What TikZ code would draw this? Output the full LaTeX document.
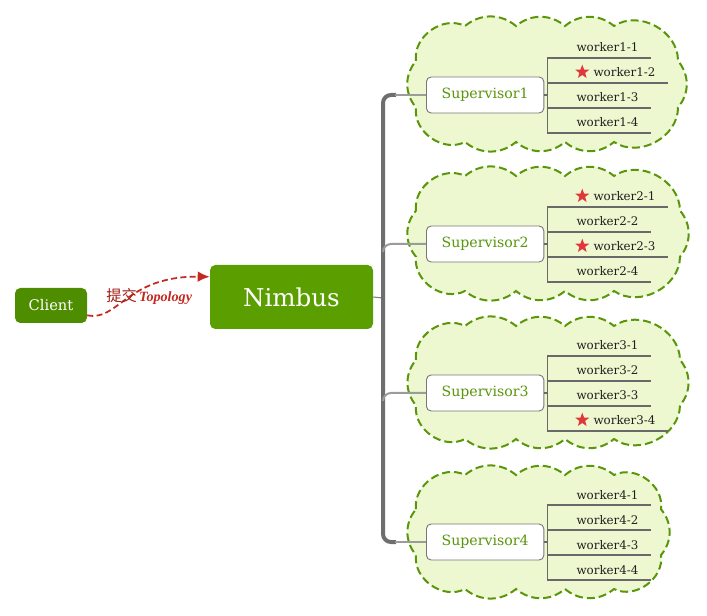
\documentclass[tikz,border=0pt]{standalone}
\usepackage{fontspec}
\setmainfont{DejaVu Serif}
\newfontfamily\cjk{Noto Sans CJK SC}
\newfontfamily\topofont{Liberation Serif}
\usetikzlibrary{arrows.meta,shapes.geometric,calc}
\definecolor{nimbusG}{RGB}{91,158,0}
\definecolor{clientG}{RGB}{78,140,0}
\definecolor{cloudFill}{RGB}{238,248,208}
\definecolor{cloudLine}{RGB}{90,150,10}
\definecolor{supText}{RGB}{88,150,10}
\definecolor{boxLine}{RGB}{120,120,120}
\definecolor{barC}{RGB}{110,110,110}
\definecolor{branchC}{RGB}{155,155,155}
\definecolor{wlineC}{RGB}{105,105,105}
\definecolor{starC}{RGB}{224,56,58}
\definecolor{arrowC}{RGB}{196,40,30}
\definecolor{labelC}{RGB}{160,30,20}
\newcommand\mycloud[4]{%
\pgfmathsetmacro\qL{#1+8}\pgfmathsetmacro\qR{#3-8}%
\pgfmathsetmacro\qT{#2+9}\pgfmathsetmacro\qB{#4-8}%
\pgfmathsetmacro\qA{#2+0.33*(#4-#2)}\pgfmathsetmacro\qC{#2+0.68*(#4-#2)}%
\filldraw[cloudst] (\qL,\qA) to[bend left=62,looseness=1.05] (465,\qT)
 to[bend left=40] (516,\qT) to[bend left=40] (565,\qT) to[bend left=40] (614,\qT)
 to[bend left=62,looseness=1.05] (\qR,\qA) to[bend left=40] (\qR,\qC)
 to[bend left=62,looseness=1.05] (614,\qB) to[bend left=40] (565,\qB) to[bend left=40] (516,\qB) to[bend left=40] (465,\qB)
 to[bend left=62,looseness=1.05] (\qL,\qC) to[bend left=40] cycle;
}
\newcommand\wrow[5]{%
 \coordinate (l#1) at ($(#2)+(0,#3)$);
 \ifnum#5=1
  \node[starnode] (s#1) at ($(l#1)+(35,-11)$) {};
  \node[wk, anchor=base west] (w#1) at ($(l#1)+(46,-6)$) {#4};
 \else
  \node[wk, anchor=base west] (w#1) at ($(l#1)+(29,-6)$) {#4};
 \fi
 \coordinate (e#1) at ([xshift=9pt]w#1.base east);
 \draw[wline] (l#1) -- (e#1 |- l#1);
}
\begin{document}
\begin{tikzpicture}[x=0.75pt,y=-0.75pt,
  cloudst/.style={fill=cloudFill, draw=cloudLine, line width=1.5pt, dash pattern=on 6pt off 3pt},
  supbox/.style={draw=boxLine, line width=0.7pt, fill=white, rounded corners=3.5pt,
     minimum width=88pt, minimum height=27pt, inner sep=0pt, text=supText, font=\fontsize{10.6pt}{12pt}\selectfont, anchor=west},
  wk/.style={inner sep=0pt, text=black!88, font=\fontsize{8.9pt}{10pt}\selectfont},
  wline/.style={draw=wlineC, line width=0.8pt},
  starnode/.style={star, star points=5, star point ratio=2.4, fill=starC, minimum size=11pt, inner sep=0pt},
  bar/.style={draw=barC, line width=3pt},
  branch/.style={draw=branchC, line width=1.5pt},
]
\useasboundingbox (0,0) rectangle (707,616);
% clouds
\mycloud{408}{17}{686}{150}
\mycloud{408}{167}{688}{299}
\mycloud{408}{317}{688}{447}
\mycloud{408}{466}{669}{597}
% main nodes
\node[fill=clientG, rounded corners=4pt, minimum width=54pt, minimum height=26.25pt, inner sep=0pt,
  text=white, font=\fontsize{11pt}{13pt}\selectfont] (client) at (51,305.5) {Client};
\node[fill=nimbusG, rounded corners=4pt, minimum width=122.25pt, minimum height=48pt, inner sep=0pt,
  text=white, font=\fontsize{18.4pt}{22pt}\selectfont] (nimbus) at (291.5,297) {Nimbus};
% submit arrow
\draw[arrowC, line width=1.3pt, dash pattern=on 4.5pt off 2.5pt, -{Latex[length=9pt,width=8pt]}]
  ([yshift=6pt]client.south east) .. controls (118,322) and (126,276) .. ([yshift=-9pt]nimbus.north west);
\node[inner sep=0pt, anchor=base west] (lbl) at (106,302)
  {\textcolor{labelC}{\cjk\fontsize{11.5pt}{13pt}\selectfont 提交}\,\textcolor{arrowC}{\topofont\bfseries\itshape\fontsize{10.6pt}{12pt}\selectfont Topology}};
% supervisors
\node[supbox] (sup1) at (426,95) {Supervisor1};
\node[supbox] (sup2) at (426,244) {Supervisor2};
\node[supbox] (sup3) at (426,393) {Supervisor3};
\node[supbox] (sup4) at (426,542) {Supervisor4};
% trunk
\coordinate (trunk) at (383,298);
\draw[draw=gray, line width=0.8pt] (nimbus.east) -- (trunk);
\draw[bar, rounded corners=6pt] (396,95) -- (383,95) -- (383,542) -- (396,542);
\draw[branch] (395,95) -- (sup1.west);
\draw[branch] (395,542) -- (sup4.west);
\draw[branch] (383,252) to[out=90,in=180] (391,244) -- (sup2.west);
\draw[branch] (383,401) to[out=90,in=180] (391,393) -- (sup3.west);
% brackets
\foreach \i in {1,2,3,4}{
  \coordinate (b\i) at ([xshift=2.25pt]sup\i.east);
  \draw[wline] (sup\i.east) -- (b\i);
}
\wrow{11}{b1}{-37}{worker1-1}{0}
\wrow{12}{b1}{-12}{worker1-2}{1}
\wrow{13}{b1}{13}{worker1-3}{0}
\wrow{14}{b1}{38}{worker1-4}{0}
\draw[wline] (l11) -- (l14);
\wrow{21}{b2}{-37}{worker2-1}{1}
\wrow{22}{b2}{-12}{worker2-2}{0}
\wrow{23}{b2}{13}{worker2-3}{1}
\wrow{24}{b2}{38}{worker2-4}{0}
\draw[wline] (l21) -- (l24);
\wrow{31}{b3}{-37}{worker3-1}{0}
\wrow{32}{b3}{-12}{worker3-2}{0}
\wrow{33}{b3}{13}{worker3-3}{0}
\wrow{34}{b3}{38}{worker3-4}{1}
\draw[wline] (l31) -- (l34);
\wrow{41}{b4}{-37}{worker4-1}{0}
\wrow{42}{b4}{-12}{worker4-2}{0}
\wrow{43}{b4}{13}{worker4-3}{0}
\wrow{44}{b4}{38}{worker4-4}{0}
\draw[wline] (l41) -- (l44);
\end{tikzpicture}
\end{document}
